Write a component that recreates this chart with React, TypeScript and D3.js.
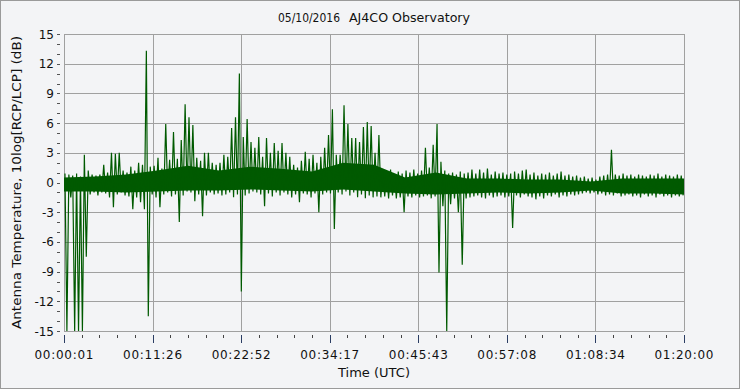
import React from 'react';
import * as d3 from 'd3';

// title + axis text
const titleDate = '05/10/2016';
const titleSite = 'AJ4CO Observatory';
const xTitle = 'Time (UTC)';
const yTitle = 'Antenna Temperature, 10log[RCP/LCP] (dB)';
const xTickLabels = ['00:00:01', '00:11:26', '00:22:52', '00:34:17', '00:45:43', '00:57:08', '01:08:34', '01:20:00'];
const yTickValues = [15, 12, 9, 6, 3, 0, -3, -6, -9, -12, -15];

// time span in seconds, data is decimated into 30 s buckets (max / min per bucket)
const startSec = 1;
const endSec = 4800;
const bucketSec = 30;

const peakHi = [
  0.9, 0.8, 0.7, 0.9, 0.6, 2.8, 1.2, 0.8, 0.7, 0.8,
  1.8, 1.0, 3.0, 2.9, 3.0, 1.2, 1.0, 1.6, 1.2, 2.0,
  1.8, 13.3, 1.6, 1.7, 2.5, 1.4, 5.9, 2.3, 5.1, 2.4,
  4.3, 7.9, 6.6, 5.8, 2.5, 2.2, 3.0, 3.0, 2.0, 1.8,
  2.0, 2.8, 2.6, 5.5, 6.6, 11.0, 4.6, 6.4, 4.1, 3.5,
  4.6, 2.6, 4.5, 3.0, 4.0, 3.2, 4.0, 3.0, 2.6, 1.8,
  1.5, 2.2, 3.1, 2.4, 2.8, 2.0, 2.6, 3.5, 4.8, 7.4,
  2.8, 2.8, 7.8, 5.9, 4.5, 4.5, 4.1, 5.6, 6.1, 5.7,
  3.0, 4.8, 1.1, 0.9, 1.3, 0.8, 1.1, 0.9, 1.2, 1.0,
  1.3, 0.9, 1.2, 3.5, 1.5, 3.8, 5.9, 2.1, 1.2, 0.9,
  1.0, 0.8, 1.1, 0.9, 1.0, 1.3, 0.9, 1.3, 1.0, 1.4,
  0.8, 1.1, 0.9, 1.0, 0.8, 0.9, 1.1, 0.9, 1.2, 1.3,
  0.8, 1.0, 0.7, 0.9, 0.8, 1.0, 0.7, 0.9, 1.1, 0.7,
  0.8, 0.6, 0.7, 0.5, 0.6, 0.4, 0.5, 0.3, 0.6, 0.7,
  0.8, 3.3, 0.8, 0.7, 0.9, 0.7, 0.8, 0.6, 0.8, 0.7,
  0.6, 0.8, 0.7, 0.9, 0.6, 0.8, 0.7, 0.6, 0.8, 0.7,
];

const peakLo = [
  -15, -1.5, -15, -15, -15, -7.5, -1.2, -1.0, -1.3, -1.0,
  -1.1, -1.5, -2.5, -1.2, -1.0, -1.3, -1.4, -2.7, -1.5, -2.0,
  -2.7, -13.5, -1.2, -1.5, -2.5, -1.2, -1.0, -1.4, -1.2, -4.0,
  -1.3, -0.9, -1.0, -1.9, -1.2, -3.4, -1.3, -1.0, -1.2, -1.1,
  -1.3, -1.2, -1.0, -1.5, -1.2, -11.0, -1.3, -1.1, -0.9, -1.0,
  -1.2, -2.4, -1.1, -1.4, -1.0, -1.3, -1.0, -1.2, -1.5, -1.2,
  -2.0, -1.1, -1.2, -1.5, -1.1, -3.0, -1.2, -1.0, -1.1, -4.7,
  -1.0, -1.2, -0.9, -1.3, -1.0, -1.5, -1.2, -1.6, -1.3, -1.5,
  -1.4, -1.5, -1.4, -1.6, -1.3, -1.6, -1.5, -3.0, -1.4, -1.5,
  -1.3, -1.5, -1.4, -1.3, -1.6, -1.4, -9.1, -2.4, -15, -2.2,
  -1.6, -3.0, -8.3, -1.6, -1.5, -1.4, -1.3, -1.5, -1.6, -1.3,
  -1.5, -1.4, -1.3, -1.5, -1.4, -4.6, -1.3, -1.5, -1.2, -1.4,
  -1.5, -1.7, -1.4, -1.6, -1.3, -1.4, -1.2, -1.5, -1.3, -1.4,
  -1.2, -1.3, -1.2, -1.1, -1.0, -1.1, -1.0, -1.2, -1.1, -1.3,
  -1.2, -1.3, -1.1, -1.4, -1.3, -1.2, -1.4, -1.3, -1.5, -1.2,
  -1.4, -1.3, -1.5, -1.2, -1.4, -1.3, -1.5, -1.3, -1.4, -1.3,
];

// dense part of the trace, sampled every 240 s
const coreSec = 240;
const coreTop = [0.5, 0.6, 0.8, 1.2, 1.7, 1.2, 1.6, 1.4, 1.1, 2.0, 1.8, 0.5, 1.0, 0.4, 0.4, 0.3, 0.3, 0.1, 0.4, 0.4, 0.4];
const coreBottom = [-0.9, -0.9, -1.0, -0.9, -0.8, -0.8, -0.7, -0.8, -0.9, -0.7, -0.9, -1.1, -1.2, -1.1, -1.0, -1.1, -1.0, -0.8, -1.1, -1.1, -1.2];

const W = 740;
const H = 389;
const plot = { left: 64, right: 684, top: 34, bottom: 331 };
const bg = '#f3f4f6';
const gridColor = '#a0a0a0';
const green = '#005a00';
const font = 'DejaVu Sans, Verdana, sans-serif';

export default function App() {
  const x = d3.scaleLinear().domain([startSec, endSec]).range([plot.left, plot.right]);
  const y = d3.scaleLinear().domain([-15, 15]).range([plot.bottom, plot.top]);

  const majorStep = (endSec - startSec) / (xTickLabels.length - 1);
  const xMajor = xTickLabels.map((_, i) => startSec + i * majorStep);
  const xMinor = d3.range(0, (xTickLabels.length - 1) * 5 + 1).map(k => startSec + (k * majorStep) / 5);
  const yMinor = d3.range(-15, 16);

  const core = d3.area<number>()
    .x((_, j) => x(Math.min(endSec, startSec + j * coreSec)))
    .y0((_, j) => y(coreBottom[j]))
    .y1(d => y(d))(coreTop);

  // min/max per bucket, joined as one trace
  const pts: [number, number][] = peakHi.flatMap((hi, i) => {
    const t = startSec + i * bucketSec;
    return [
      [t + bucketSec * 0.25, hi],
      [t + bucketSec * 0.75, peakLo[i]],
    ] as [number, number][];
  });
  const trace = d3.line<[number, number]>()
    .x(d => x(d[0]))
    .y(d => y(d[1]))(pts);

  return (
    <svg width={W} height={H} style={{ position: 'absolute', left: 0, top: 0 }} fontFamily={font}>
      <rect x={0.5} y={0.5} width={W - 1} height={H - 1} fill={bg} stroke="#9a9a9a" />
      <defs>
        <clipPath id="plotClip">
          <rect x={plot.left} y={plot.top} width={plot.right - plot.left} height={plot.bottom - plot.top + 0.5} />
        </clipPath>
      </defs>

      {/* title */}
      <text x={278} y={22} fontSize={12} fill="#111" textLength={62} lengthAdjust="spacingAndGlyphs">{titleDate}</text>
      <text x={349} y={22} fontSize={12} fill="#111" textLength={121} lengthAdjust="spacingAndGlyphs">{titleSite}</text>

      {/* grid */}
      {yTickValues.map(v => (
        <line key={'gy' + v} x1={plot.left} x2={plot.right} y1={Math.round(y(v)) + 0.5} y2={Math.round(y(v)) + 0.5} stroke={gridColor} />
      ))}
      {xMajor.map((t, i) => (
        <line key={'gx' + i} x1={Math.round(x(t)) + 0.5} x2={Math.round(x(t)) + 0.5} y1={plot.top} y2={plot.bottom} stroke={gridColor} />
      ))}

      {/* data */}
      <g clipPath="url(#plotClip)">
        <path d={core || ''} fill={green} />
        <path d={trace || ''} fill="none" stroke={green} strokeWidth={1.2} strokeLinejoin="miter" strokeMiterlimit={2} />
      </g>

      {/* y axis */}
      {yMinor.map(v => (
        <line key={'ym' + v} x1={57} x2={60} y1={Math.round(y(v)) + 0.5} y2={Math.round(y(v)) + 0.5} stroke="#555" />
      ))}
      {yTickValues.map(v => (
        <text key={'yl' + v} x={54} y={y(v) + 4.5} fontSize={12} textAnchor="end" fill="#111">{v}</text>
      ))}
      <text transform={`translate(21,${(plot.top + plot.bottom) / 2}) rotate(-90)`} fontSize={12} textAnchor="middle" fill="#111" textLength={293} lengthAdjust="spacingAndGlyphs">{yTitle}</text>

      {/* x axis */}
      {xMinor.map((t, k) => (
        <line key={'xm' + k} x1={Math.round(x(t)) + 0.5} x2={Math.round(x(t)) + 0.5} y1={335} y2={k % 5 === 0 ? 343 : 338} stroke={k % 5 === 0 ? '#2b3d63' : '#444'} />
      ))}
      {xTickLabels.map((lab, i) => (
        <text key={'xl' + i} x={x(xMajor[i])} y={359} fontSize={12} textAnchor="middle" fill="#111" textLength={59} lengthAdjust="spacing">{lab}</text>
      ))}
      <text x={(plot.left + plot.right) / 2} y={377} fontSize={12} textAnchor="middle" fill="#111" textLength={72} lengthAdjust="spacingAndGlyphs">{xTitle}</text>
    </svg>
  );
}
